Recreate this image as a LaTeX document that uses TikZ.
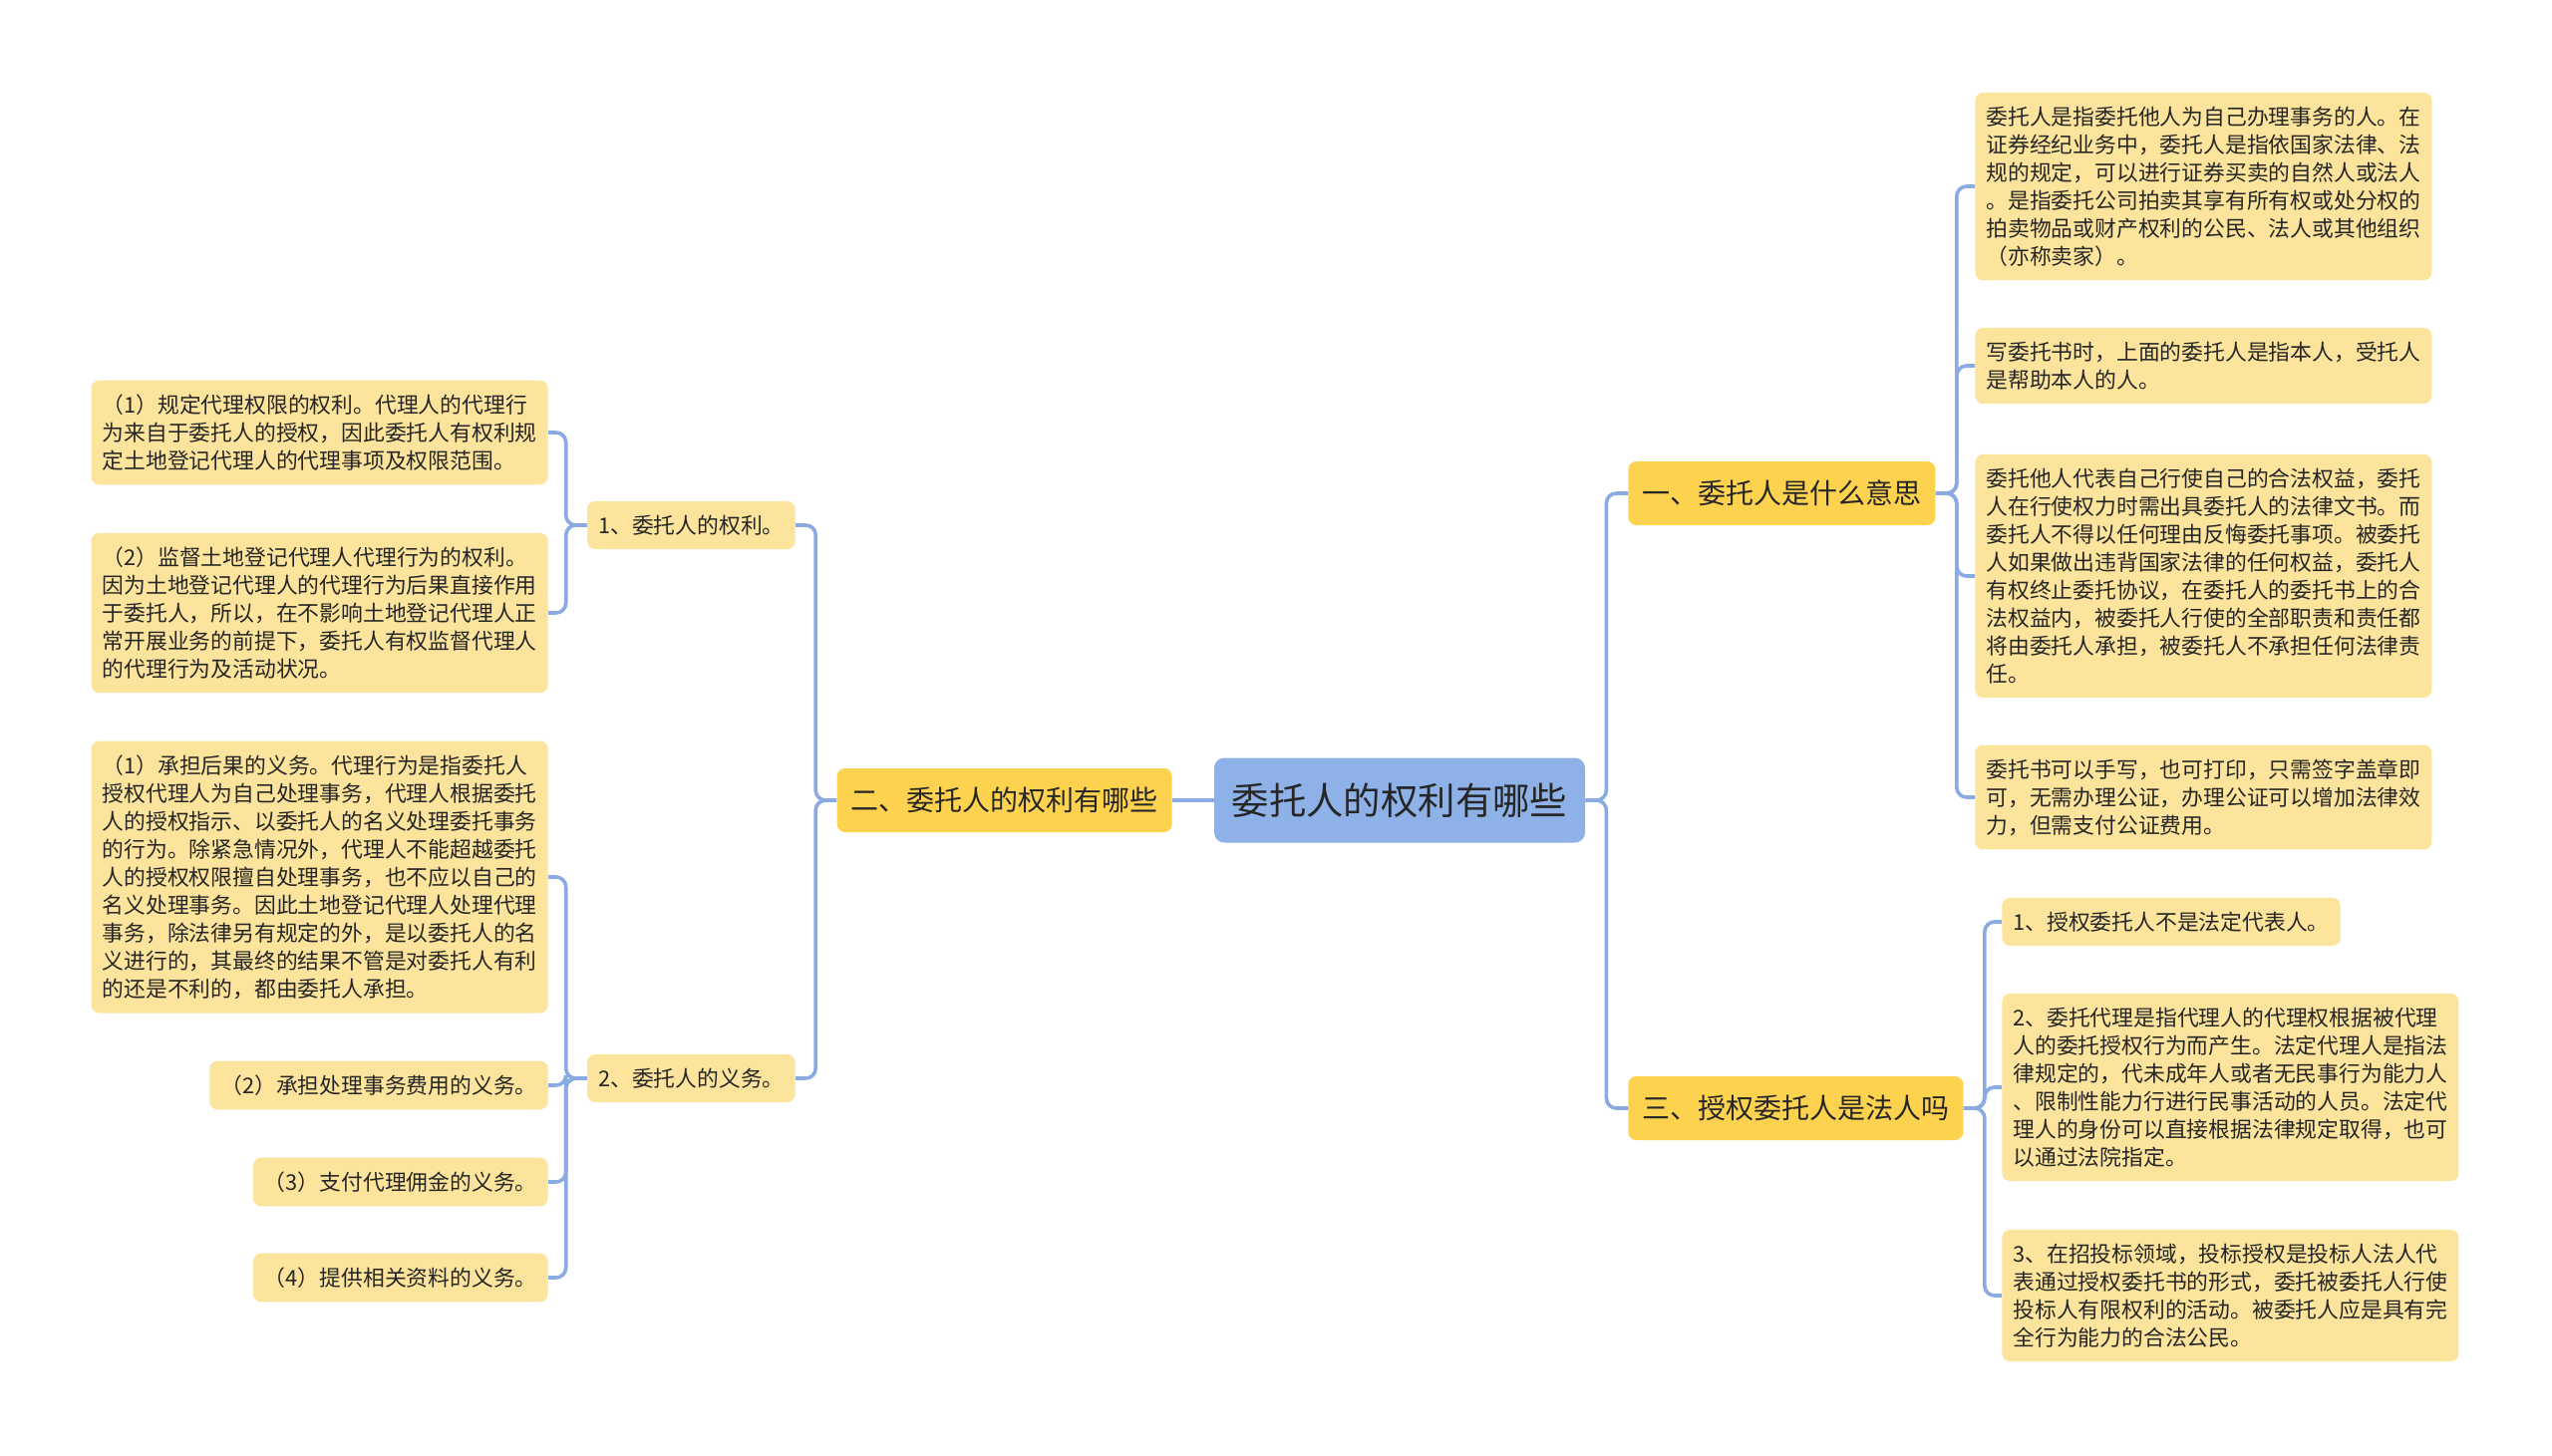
\documentclass[tikz,border=0pt]{standalone}
\usepackage{fontspec}
\newfontfamily\cjk{Noto Sans CJK SC}
\definecolor{linkblue}{HTML}{8AABE2}
\definecolor{rootblue}{HTML}{8EB1E8}
\definecolor{topicgold}{HTML}{FDD24F}
\definecolor{leafyellow}{HTML}{FCE49C}
\definecolor{inkgray}{HTML}{262626}

\begin{document}
\begin{tikzpicture}[x=0.5pt, y=-0.5pt,
    link/.style={linkblue, line width=1.8pt, rounded corners=5pt},
    rootbox/.style={fill=rootblue, rounded corners=5pt, text=inkgray, font=\cjk\fontsize{18.7}{22}\selectfont, minimum width=186pt, minimum height=42.5pt, inner sep=0pt},
    topic/.style={fill=topicgold, rounded corners=4pt, text=inkgray, font=\cjk\fontsize{14}{17}\selectfont, minimum height=32pt, inner xsep=7pt, inner ysep=0pt},
    sub/.style={fill=leafyellow, rounded corners=4pt, text=inkgray, font=\cjk\fontsize{10.9}{14}\selectfont, minimum height=24pt, inner xsep=5.5pt, inner ysep=0pt},
    leaf/.style={fill=leafyellow, rounded corners=4pt, text=inkgray, align=left, font=\cjk\fontsize{10.9}{14}\selectfont, inner xsep=5.5pt, inner ysep=7pt}]
      \fill[white] (0,0) rectangle (2560,1461);
      \useasboundingbox (0,0) rectangle (2560,1461);
      % centre and main topics
      \node[rootbox] (root) at (1404,803) {委托人的权利有哪些};
      \node[topic, anchor=east] (t2) at (1176,803) {二、委托人的权利有哪些};
      \node[topic, anchor=west] (t1) at (1633,495) {一、委托人是什么意思};
      \node[topic, anchor=west] (t3) at (1633,1112) {三、授权委托人是法人吗};
      \node[sub, anchor=east] (p1) at (798,527) {1、委托人的权利。};
      \node[sub, anchor=east] (p2) at (798,1082) {2、委托人的义务。};
      % right side
      \node[leaf, anchor=west] (r1) at (1981,187) {委托人是指委托他人为自己办理事务的人。在\\证券经纪业务中，委托人是指依国家法律、法\\规的规定，可以进行证券买卖的自然人或法人\\。是指委托公司拍卖其享有所有权或处分权的\\拍卖物品或财产权利的公民、法人或其他组织\\（亦称卖家）。};
      \node[leaf, anchor=west] (r2) at (1981,367) {写委托书时，上面的委托人是指本人，受托人\\是帮助本人的人。};
      \node[leaf, anchor=west] (r3) at (1981,578) {委托他人代表自己行使自己的合法权益，委托\\人在行使权力时需出具委托人的法律文书。而\\委托人不得以任何理由反悔委托事项。被委托\\人如果做出违背国家法律的任何权益，委托人\\有权终止委托协议，在委托人的委托书上的合\\法权益内，被委托人行使的全部职责和责任都\\将由委托人承担，被委托人不承担任何法律责\\任。};
      \node[leaf, anchor=west] (r4) at (1981,800) {委托书可以手写，也可打印，只需签字盖章即\\可，无需办理公证，办理公证可以增加法律效\\力，但需支付公证费用。};
      \node[leaf, anchor=west] (s1) at (2008,925) {1、授权委托人不是法定代表人。};
      \node[leaf, anchor=west] (s2) at (2008,1091) {2、委托代理是指代理人的代理权根据被代理\\人的委托授权行为而产生。法定代理人是指法\\律规定的，代未成年人或者无民事行为能力人\\、限制性能力行进行民事活动的人员。法定代\\理人的身份可以直接根据法律规定取得，也可\\以通过法院指定。};
      \node[leaf, anchor=west] (s3) at (2008,1300) {3、在招投标领域，投标授权是投标人法人代\\表通过授权委托书的形式，委托被委托人行使\\投标人有限权利的活动。被委托人应是具有完\\全行为能力的合法公民。};
      % left side
      \node[leaf, anchor=east] (a1) at (550,434) {（1）规定代理权限的权利。代理人的代理行\\为来自于委托人的授权，因此委托人有权利规\\定土地登记代理人的代理事项及权限范围。};
      \node[leaf, anchor=east] (a2) at (550,615) {（2）监督土地登记代理人代理行为的权利。\\因为土地登记代理人的代理行为后果直接作用\\于委托人，所以，在不影响土地登记代理人正\\常开展业务的前提下，委托人有权监督代理人\\的代理行为及活动状况。};
      \node[leaf, anchor=east] (b1) at (550,880) {（1）承担后果的义务。代理行为是指委托人\\授权代理人为自己处理事务，代理人根据委托\\人的授权指示、以委托人的名义处理委托事务\\的行为。除紧急情况外，代理人不能超越委托\\人的授权权限擅自处理事务，也不应以自己的\\名义处理事务。因此土地登记代理人处理代理\\事务，除法律另有规定的外，是以委托人的名\\义进行的，其最终的结果不管是对委托人有利\\的还是不利的，都由委托人承担。};
      \node[leaf, anchor=east] (b2) at (550,1089) {（2）承担处理事务费用的义务。};
      \node[leaf, anchor=east] (b3) at (550,1186) {（3）支付代理佣金的义务。};
      \node[leaf, anchor=east] (b4) at (550,1282) {（4）提供相关资料的义务。};
      % connectors
      \draw[link] (root.west) -- (t2.east);
      \foreach \c in {t1,t3} \draw[link] (root.east) -- ++(21,0) |- (\c.west);
      \foreach \c in {r1,r2,r3,r4} \draw[link] (t1.east) -- ++(21,0) |- (\c.west);
      \foreach \c in {s1,s2,s3} \draw[link] (t3.east) -- ++(21,0) |- (\c.west);
      \foreach \c in {p1,p2} \draw[link] (t2.west) -- ++(-21,0) |- (\c.east);
      \foreach \c in {a1,a2} \draw[link] (p1.west) -- ++(-21,0) |- (\c.east);
      \foreach \c in {b1,b2,b3,b4} \draw[link] (p2.west) -- ++(-21,0) |- (\c.east);
    \end{tikzpicture}
\end{document}
